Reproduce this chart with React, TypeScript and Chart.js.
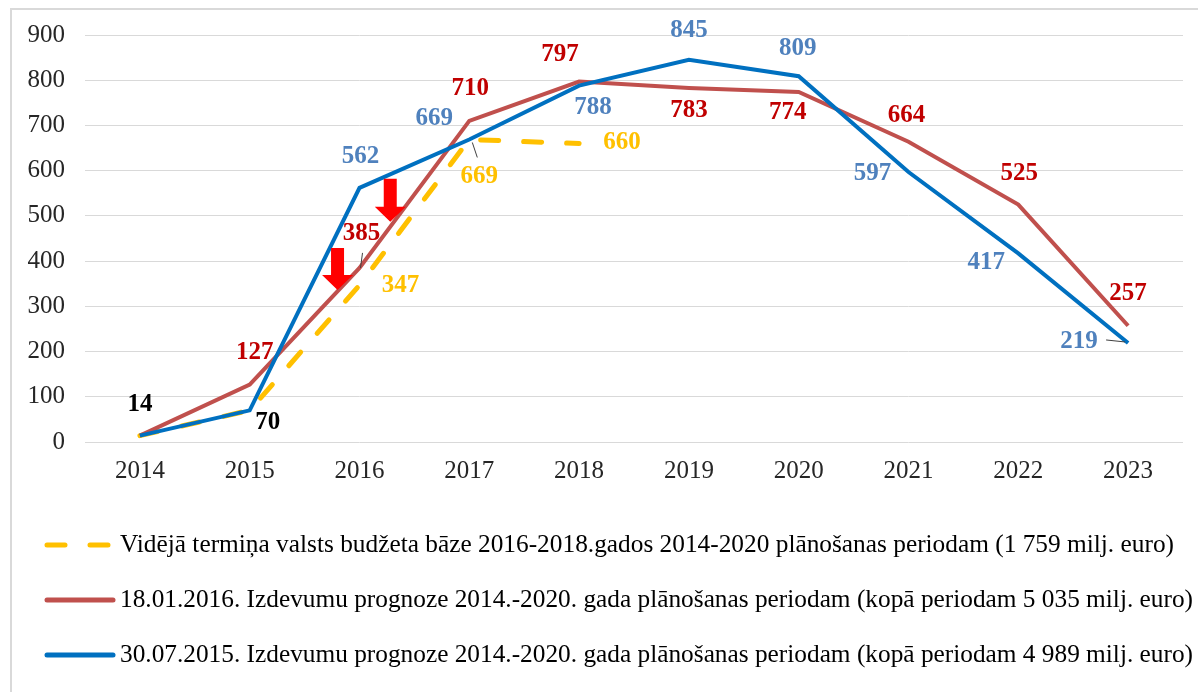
import React, { useEffect, useRef } from "react";
import { Chart, registerables } from "chart.js";

Chart.register(...registerables);

// ---------- DATA ----------
const years = ["2014", "2015", "2016", "2017", "2018", "2019", "2020", "2021", "2022", "2023"];
const budgetBase = [14, 70, 347, 669, 660, null, null, null, null, null];
const forecast2016 = [14, 127, 385, 710, 797, 783, 774, 664, 525, 257];
const forecast2015 = [14, 70, 562, 669, 788, 845, 809, 597, 417, 219];
const yMin = 0;
const yMax = 900;
const yStep = 100;
const legendLabels = [
  "Vidējā termiņa valsts budžeta bāze 2016-2018.gados 2014-2020 plānošanas periodam (1 759 milj. euro)",
  "18.01.2016. Izdevumu prognoze 2014.-2020. gada plānošanas periodam (kopā periodam 5 035 milj. euro)",
  "30.07.2015. Izdevumu prognoze 2014.-2020. gada plānošanas periodam (kopā periodam 4 989 milj. euro)",
];
// down-arrow annotations: category position, top value, tip value
const arrowCats = [1.8, 2.28];
const arrowTops = [429, 582];
const arrowTips = [336, 487];

// ---------- STYLE ----------
const YELLOW = "#FFC000";
const RED_LINE = "#C0504D";
const BLUE_LINE = "#0070C0";
const RED_TEXT = "#C00000";
const BLUE_TEXT = "#4F81BD";
const BLACK_TEXT = "#000000";
const SERIF = "'Liberation Serif', 'Times New Roman', serif";

type LabelSpec = { dx: number; dy: number; color: string; leader?: number[] } | null;

const yellowLabelSpecs: LabelSpec[] = [
  null, null,
  { dx: 41, dy: 0, color: YELLOW },
  { dx: 10, dy: 37, color: YELLOW, leader: [3, 3, 8, 18] },
  { dx: 43, dy: -1, color: YELLOW },
  null, null, null, null, null,
];
const redLabelSpecs: LabelSpec[] = [
  null,
  { dx: 5, dy: -32, color: RED_TEXT },
  { dx: 2, dy: -34, color: RED_TEXT, leader: [3, -15, 1, 0] },
  { dx: 1, dy: -32, color: RED_TEXT },
  { dx: -19, dy: -27, color: RED_TEXT },
  { dx: 0, dy: 23, color: RED_TEXT },
  { dx: -11, dy: 21, color: RED_TEXT },
  { dx: -2, dy: -26, color: RED_TEXT },
  { dx: 1, dy: -31, color: RED_TEXT },
  { dx: 0, dy: -32, color: RED_TEXT },
];
const blueLabelSpecs: LabelSpec[] = [
  { dx: 0, dy: -31, color: BLACK_TEXT },
  { dx: 18, dy: 12, color: BLACK_TEXT },
  { dx: 1, dy: -31, color: BLUE_TEXT },
  { dx: -35, dy: -21, color: BLUE_TEXT },
  { dx: 14, dy: 22, color: BLUE_TEXT },
  { dx: 0, dy: -29, color: BLUE_TEXT },
  { dx: -1, dy: -28, color: BLUE_TEXT },
  { dx: -36, dy: 2, color: BLUE_TEXT },
  { dx: -32, dy: 9, color: BLUE_TEXT },
  { dx: -49, dy: -1, color: BLUE_TEXT, leader: [-22, -3, -3, -1] },
];
const labelSpecsByDataset = [blueLabelSpecs, redLabelSpecs, yellowLabelSpecs];

const legendStyles = [
  { color: YELLOW, width: 5, dash: [18, 25] },
  { color: RED_LINE, width: 5, dash: [] as number[] },
  { color: BLUE_LINE, width: 5, dash: [] as number[] },
];
const legendRowsY = [545, 600, 655];
const legendTextRight = [1174, 1193, 1193];

const W = 1198;
const H = 692;

const decorPlugin = {
  id: "decor",
  beforeDraw(chart: any) {
    const ctx = chart.ctx;
    ctx.save();
    ctx.fillStyle = "#ffffff";
    ctx.fillRect(0, 0, chart.width, chart.height);
    ctx.strokeStyle = "#d9d9d9";
    ctx.lineWidth = 2;
    ctx.strokeRect(11, 9, chart.width + 20, chart.height + 20);
    ctx.restore();
  },
  afterDatasetsDraw(chart: any) {
    const ctx = chart.ctx;
    const xs = chart.scales.x;
    const ys = chart.scales.y;
    ctx.save();
    // arrows
    ctx.fillStyle = "#FF0000";
    for (let i = 0; i < arrowCats.length; i++) {
      const cx = xs.getPixelForValue(arrowCats[i]);
      const top = ys.getPixelForValue(arrowTops[i]);
      const tip = ys.getPixelForValue(arrowTips[i]);
      const headLen = 15;
      const shaftHalf = 6.5;
      const headHalf = 15.5;
      ctx.beginPath();
      ctx.moveTo(cx - shaftHalf, top);
      ctx.lineTo(cx + shaftHalf, top);
      ctx.lineTo(cx + shaftHalf, tip - headLen);
      ctx.lineTo(cx + headHalf, tip - headLen);
      ctx.lineTo(cx, tip);
      ctx.lineTo(cx - headHalf, tip - headLen);
      ctx.lineTo(cx - shaftHalf, tip - headLen);
      ctx.closePath();
      ctx.fill();
    }
    // data labels
    ctx.font = `bold 25px ${SERIF}`;
    ctx.textAlign = "center";
    ctx.textBaseline = "middle";
    chart.data.datasets.forEach((ds: any, di: number) => {
      const specs = labelSpecsByDataset[di];
      ds.data.forEach((v: number | null, i: number) => {
        const spec = specs[i];
        if (v == null || !spec) return;
        const px = xs.getPixelForValue(i);
        const py = ys.getPixelForValue(v);
        if (spec.leader) {
          ctx.strokeStyle = "#404040";
          ctx.lineWidth = 1;
          ctx.beginPath();
          ctx.moveTo(px + spec.leader[0], py + spec.leader[1]);
          ctx.lineTo(px + spec.leader[2], py + spec.leader[3]);
          ctx.stroke();
        }
        ctx.fillStyle = spec.color;
        ctx.fillText(String(v), px + spec.dx, py + spec.dy);
      });
    });
    ctx.restore();
  },
  afterDraw(chart: any) {
    const ctx = chart.ctx;
    ctx.save();
    for (let i = 0; i < legendLabels.length; i++) {
      const st = legendStyles[i];
      const y = legendRowsY[i];
      ctx.strokeStyle = st.color;
      ctx.lineWidth = st.width;
      ctx.lineCap = "round";
      ctx.setLineDash(st.dash);
      ctx.beginPath();
      ctx.moveTo(47, y);
      ctx.lineTo(113, y);
      ctx.stroke();
      ctx.setLineDash([]);
      ctx.font = `26px ${SERIF}`;
      ctx.fillStyle = "#000000";
      ctx.textAlign = "left";
      ctx.textBaseline = "middle";
      const measured = ctx.measureText(legendLabels[i]).width;
      const sx = (legendTextRight[i] - 120) / measured;
      ctx.save();
      ctx.translate(120, y);
      ctx.scale(sx, 1);
      ctx.fillText(legendLabels[i], 0, 0);
      ctx.restore();
    }
    ctx.restore();
  },
};

export default function App() {
  const canvasRef = useRef<HTMLCanvasElement | null>(null);

  useEffect(() => {
    document.body.style.margin = "0";
    const canvas = canvasRef.current;
    if (!canvas) return;
    const chart = new Chart(canvas, {
      type: "line",
      data: {
        labels: years,
        datasets: [
          {
            label: legendLabels[2],
            data: forecast2015,
            borderColor: BLUE_LINE,
            backgroundColor: BLUE_LINE,
            borderWidth: 4,
            pointRadius: 0,
            tension: 0,
            order: 0,
          },
          {
            label: legendLabels[1],
            data: forecast2016,
            borderColor: RED_LINE,
            backgroundColor: RED_LINE,
            borderWidth: 4,
            pointRadius: 0,
            tension: 0,
            order: 1,
          },
          {
            label: legendLabels[0],
            data: budgetBase,
            borderColor: YELLOW,
            backgroundColor: YELLOW,
            borderWidth: 5,
            borderDash: [18, 25],
            borderCapStyle: "round",
            pointRadius: 0,
            tension: 0,
            spanGaps: false,
            order: 2,
          },
        ],
      },
      options: {
        animation: false,
        responsive: false,
        devicePixelRatio: 1,
        layout: { padding: { top: 35, right: 15, left: 0, bottom: 0 } },
        plugins: {
          legend: { display: false },
          tooltip: { enabled: false },
          title: { display: false },
        },
        scales: {
          x: {
            type: "category",
            offset: true,
            grid: { display: false, drawTicks: false },
            border: { display: false },
            ticks: {
              color: "#262626",
              font: { family: SERIF, size: 25 },
              padding: 14,
              maxRotation: 0,
            },
            afterFit: (scale: any) => {
              scale.height = 250;
            },
          },
          y: {
            min: yMin,
            max: yMax,
            grid: { color: "#d9d9d9", lineWidth: 1, drawTicks: false },
            border: { display: false },
            ticks: {
              stepSize: yStep,
              color: "#262626",
              font: { family: SERIF, size: 25 },
              padding: 20,
            },
            afterFit: (scale: any) => {
              scale.width = 85;
            },
          },
        },
      },
      plugins: [decorPlugin],
    });
    return () => chart.destroy();
  }, []);

  return (
    <div style={{ width: W, height: H, position: "relative" }}>
      <canvas ref={canvasRef} width={W} height={H} style={{ display: "block" }} />
    </div>
  );
}
